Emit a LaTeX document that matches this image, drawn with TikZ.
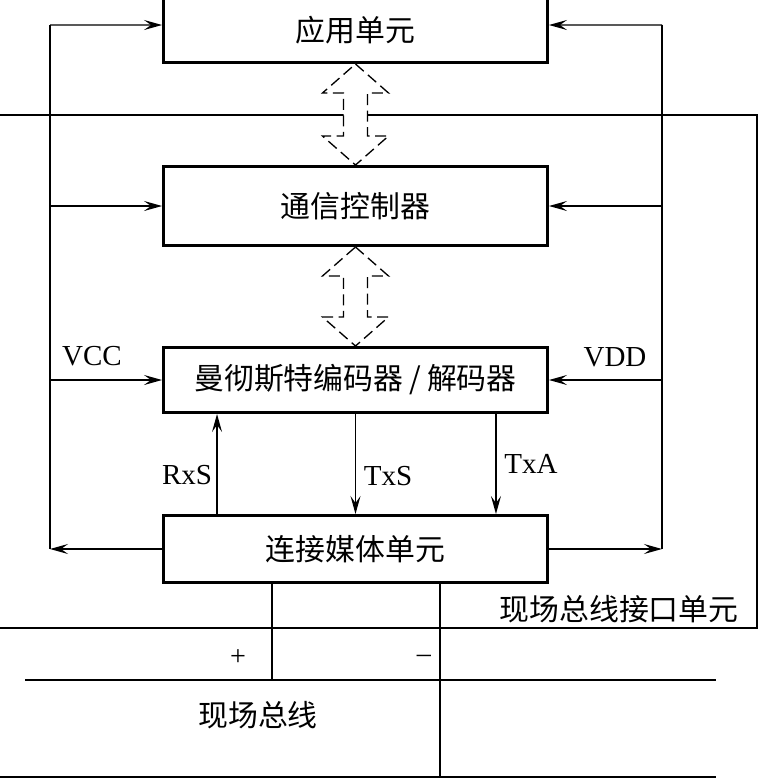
\documentclass[tikz,border=0pt]{standalone}
\usepackage{fontspec}
\setmainfont{Liberation Serif}
\newfontfamily\cjk{Noto Sans CJK SC}
\usetikzlibrary{arrows.meta,calc}
\def\busarrow#1#2{\draw[busarr] (#1) -- ++(33,29) -- ++(-21,0) -- ($(#2)+(12,-29)$) -- ++(21,0) -- (#2) -- ++(-33,-29) -- ++(21,0) -- ($(#1)+(-12,29)$) -- ++(-21,0) -- cycle}
\tikzstyle{unit}=[draw,line width=1.7pt,minimum width=7.68cm,inner sep=0pt,font=\cjk\fontsize{17}{20}\selectfont]
\tikzstyle{wire}=[line width=0.75pt]
\tikzstyle{feed}=[wire,-{Stealth[length=3.6mm,width=2mm,inset=1.4mm]}]
\tikzstyle{sig}=[inner sep=0pt,font=\fontsize{16.5}{18}\selectfont]
\tikzstyle{unitname}=[inner sep=0pt,font=\cjk\fontsize{17}{20}\selectfont]
\tikzstyle{busarr}=[wire,dash pattern=on 2.2mm off 1.1mm,fill=white]

\begin{document}
\begin{tikzpicture}[x=0.02cm,y=-0.02cm]
    \useasboundingbox (0,0) rectangle (758,778);
    % interface unit frame
    \draw[wire] (0,115) -| (757,628) -- (0,628);
    \node[unit,minimum height=1.3cm] (app) at (355.5,30) {应用单元};
    \node[unit,minimum height=1.58cm] (comm) at (355.5,206) {通信控制器};
    \node[unit,minimum height=1.3cm] (codec) at (355.5,380) {曼彻斯特编码器\hspace{0.2em}/\hspace{0.2em}解码器};
    \node[unit,minimum height=1.34cm] (mau) at (355.5,549) {连接媒体单元};
    \busarrow{app.south}{comm.north};
    \busarrow{comm.south}{codec.north};
    % power rails
    \coordinate (lrail) at (50,0);
    \coordinate (rrail) at (662,0);
    \draw[wire] (lrail |- 0,25) -- (lrail |- mau.west);
    \draw[wire] (rrail |- 0,25) -- (rrail |- mau.east);
    \draw[feed] (lrail |- 0,25) -- ([yshift=0.1cm]app.west);
    \draw[feed] (rrail |- 0,25) -- ([yshift=0.1cm]app.east);
    \foreach \n in {comm,codec}{
      \draw[feed] (lrail |- \n.west) -- (\n.west);
      \draw[feed] (rrail |- \n.east) -- (\n.east);
    }
    \draw[feed] (mau.west) -- (lrail |- mau.west);
    \draw[feed] (mau.east) -- (rrail |- mau.east);
    % signals
    \draw[feed] ([xshift=-2.77cm]mau.north) -- ([xshift=-2.77cm]codec.south);
    \draw[feed] (codec.south) -- (mau.north);
    \draw[feed] ([xshift=2.81cm]codec.south) -- ([xshift=2.81cm]mau.north);
    \node[sig] (vcc) at (92,356) {VCC};
    \node[sig] (vdd) at (615,357) {VDD};
    \node[sig] (rxs) at (187,475) {RxS};
    \node[sig] (txs) at (388,476) {TxS};
    \node[sig] (txa) at (531,464) {TxA};
    % field bus
    \coordinate (pA) at (25,680);
    \coordinate (pB) at (716,680);
    \coordinate (mA) at (0,777);
    \coordinate (mB) at (716,777);
    \draw[wire] (pA) -- (pB);
    \draw[wire] (mA) -- (mB);
    \draw[wire] ([xshift=-1.67cm]mau.south) -- ([xshift=-1.67cm]mau.south |- pA);
    \draw[wire] ([xshift=1.69cm]mau.south) -- ([xshift=1.69cm]mau.south |- mA);
    \node[sig,font=\fontsize{16}{18}\selectfont] (plus) at (238,658) {+};
    \node[sig,font=\fontsize{16}{18}\selectfont] (minus) at (424,659) {--};
    \node[unitname] (bus) at (258,715) {现场总线};
    \node[unitname] (ifu) at (619,609) {现场总线接口单元};
\end{tikzpicture}
\end{document}
